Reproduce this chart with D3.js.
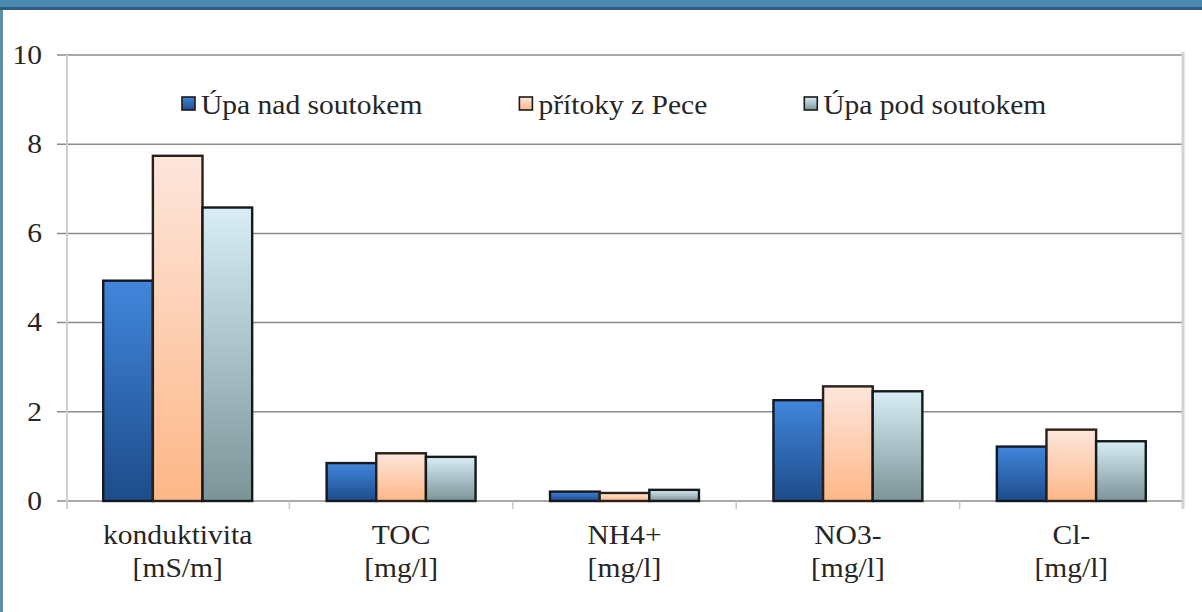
<!DOCTYPE html>
<html>
<head>
<meta charset="utf-8">
<script src="https://cdn.jsdelivr.net/npm/d3@7"></script>
<style>
  html, body { margin: 0; padding: 0; background: #ffffff; }
  svg { display: block; }
</style>
</head>
<body>
<svg id="chart" width="1202" height="612"></svg>
<script>
// ---- data ----
const categories = ["konduktivita", "TOC", "NH4+", "NO3-", "Cl-"];
const categoryUnits = ["[mS/m]", "[mg/l]", "[mg/l]", "[mg/l]", "[mg/l]"];
const seriesNames = ["Úpa nad soutokem", "přítoky z Pece", "Úpa pod soutokem"];
const upaNad = [4.94, 0.85, 0.21, 2.26, 1.22];
const pritoky = [7.74, 1.07, 0.18, 2.57, 1.60];
const upaPod = [6.58, 0.99, 0.25, 2.46, 1.34];
const yTicks = [0, 2, 4, 6, 8, 10];

const seriesValues = [upaNad, pritoky, upaPod];
const gradStops = [
  ["#4186dc", "#1d4c8a"],
  ["#fde6dc", "#fdb787"],
  ["#d8edf5", "#7b9498"]
];
const strokeCols = ["#141820", "#2a2019", "#141a1c"];

const FONT = "'Liberation Serif', 'Times New Roman', Times, 'DejaVu Serif', serif";
const svg = d3.select("#chart").style("font-family", FONT);
const W = 1202, H = 612;
const TX = 1.055; // horizontal text stretch

// frame
svg.append("rect").attr("x", 0).attr("y", 0).attr("width", W).attr("height", H).attr("fill", "#ffffff");
svg.append("rect").attr("x", 0).attr("y", 0).attr("width", W).attr("height", 7).attr("fill", "#4b89b3");
svg.append("rect").attr("x", 0).attr("y", 7).attr("width", W).attr("height", 3).attr("fill", "#2f5f80");
svg.append("rect").attr("x", 0).attr("y", 10).attr("width", 3).attr("height", H - 10).attr("fill", "#5f8ca6");

// gradients
const defs = svg.append("defs");
gradStops.forEach((s, i) => {
  const g = defs.append("linearGradient").attr("id", "g" + i)
    .attr("x1", 0).attr("y1", 0).attr("x2", 0).attr("y2", 1);
  g.append("stop").attr("offset", "0%").attr("stop-color", s[0]);
  g.append("stop").attr("offset", "100%").attr("stop-color", s[1]);
});

// scales
const x0 = d3.scaleBand().domain(categories).range([66, 1183]).paddingInner(0).paddingOuter(0);
const x1 = d3.scaleBand().domain(d3.range(seriesNames.length)).range([0, x0.bandwidth()])
  .paddingInner(0).paddingOuter(0.75);
const y = d3.scaleLinear().domain([0, 10]).range([501, 55]);

// gridlines (incl. baseline)
svg.append("g").selectAll("line").data(yTicks).join("line")
  .attr("x1", 57).attr("x2", 1183)
  .attr("y1", d => y(d)).attr("y2", d => y(d))
  .attr("stroke", "#8c8c8c").attr("stroke-width", 1.5);

// left axis line & right border
svg.append("line").attr("x1", 67).attr("x2", 67).attr("y1", y(10)).attr("y2", 509)
  .attr("stroke", "#cfcfcf").attr("stroke-width", 2);
svg.append("line").attr("x1", 1183).attr("x2", 1183).attr("y1", y(10) - 3).attr("y2", 509)
  .attr("stroke", "#d2d2d2").attr("stroke-width", 3);

// category ticks
svg.append("g").selectAll("line").data(categories.slice(1)).join("line")
  .attr("x1", d => x0(d)).attr("x2", d => x0(d))
  .attr("y1", y(0)).attr("y2", 509)
  .attr("stroke", "#c8c8c8").attr("stroke-width", 1.5);

// y tick labels
svg.append("g").selectAll("text").data(yTicks).join("text")
  .attr("font-family", FONT)
  .attr("transform", d => `translate(42,${y(d) - 1}) scale(${TX},1)`)
  .attr("text-anchor", "end").attr("dominant-baseline", "central")
  .attr("font-size", 28).attr("fill", "#262626")
  .text(d => d);

// bars
const groups = svg.append("g").selectAll("g").data(categories).join("g")
  .attr("transform", d => `translate(${x0(d)},0)`);
groups.selectAll("rect").data((c, ci) => seriesValues.map((vals, si) => ({ si, v: vals[ci] })))
  .join("rect")
  .attr("x", d => x1(d.si))
  .attr("width", x1.bandwidth())
  .attr("y", d => y(d.v))
  .attr("height", d => y(0) - y(d.v))
  .attr("fill", d => `url(#g${d.si})`)
  .attr("stroke", d => strokeCols[d.si]).attr("stroke-width", 2.4);

// category labels
const lab = svg.append("g").selectAll("g").data(categories).join("g");
lab.append("text")
  .attr("font-family", FONT)
  .attr("transform", d => `translate(${x0(d) + x0.bandwidth() / 2},544) scale(${TX},1)`)
  .attr("text-anchor", "middle").attr("font-size", 28).attr("fill", "#262626")
  .text(d => d);
lab.append("text")
  .attr("font-family", FONT)
  .attr("transform", (d, i) => `translate(${x0(d) + x0.bandwidth() / 2},577) scale(${TX},1)`)
  .attr("text-anchor", "middle").attr("font-size", 28).attr("fill", "#262626")
  .text((d, i) => categoryUnits[i]);

// legend
const leg = svg.append("g");
let lx = 182;
const ly = 104;
seriesNames.forEach((name, i) => {
  leg.append("rect").attr("x", lx).attr("y", ly - 7).attr("width", 13).attr("height", 13)
    .attr("fill", `url(#g${i})`).attr("stroke", "#1a1a1a").attr("stroke-width", 1.6);
  const t = leg.append("text")
    .attr("font-family", FONT)
    .attr("transform", `translate(${lx + 19},${ly}) scale(${TX},1)`)
    .attr("dominant-baseline", "central")
    .attr("font-size", 28).attr("fill", "#262626").text(name);
  const w = t.node().getComputedTextLength() * TX;
  lx = lx + 19 + w + 97;
});
</script>
</body>
</html>
